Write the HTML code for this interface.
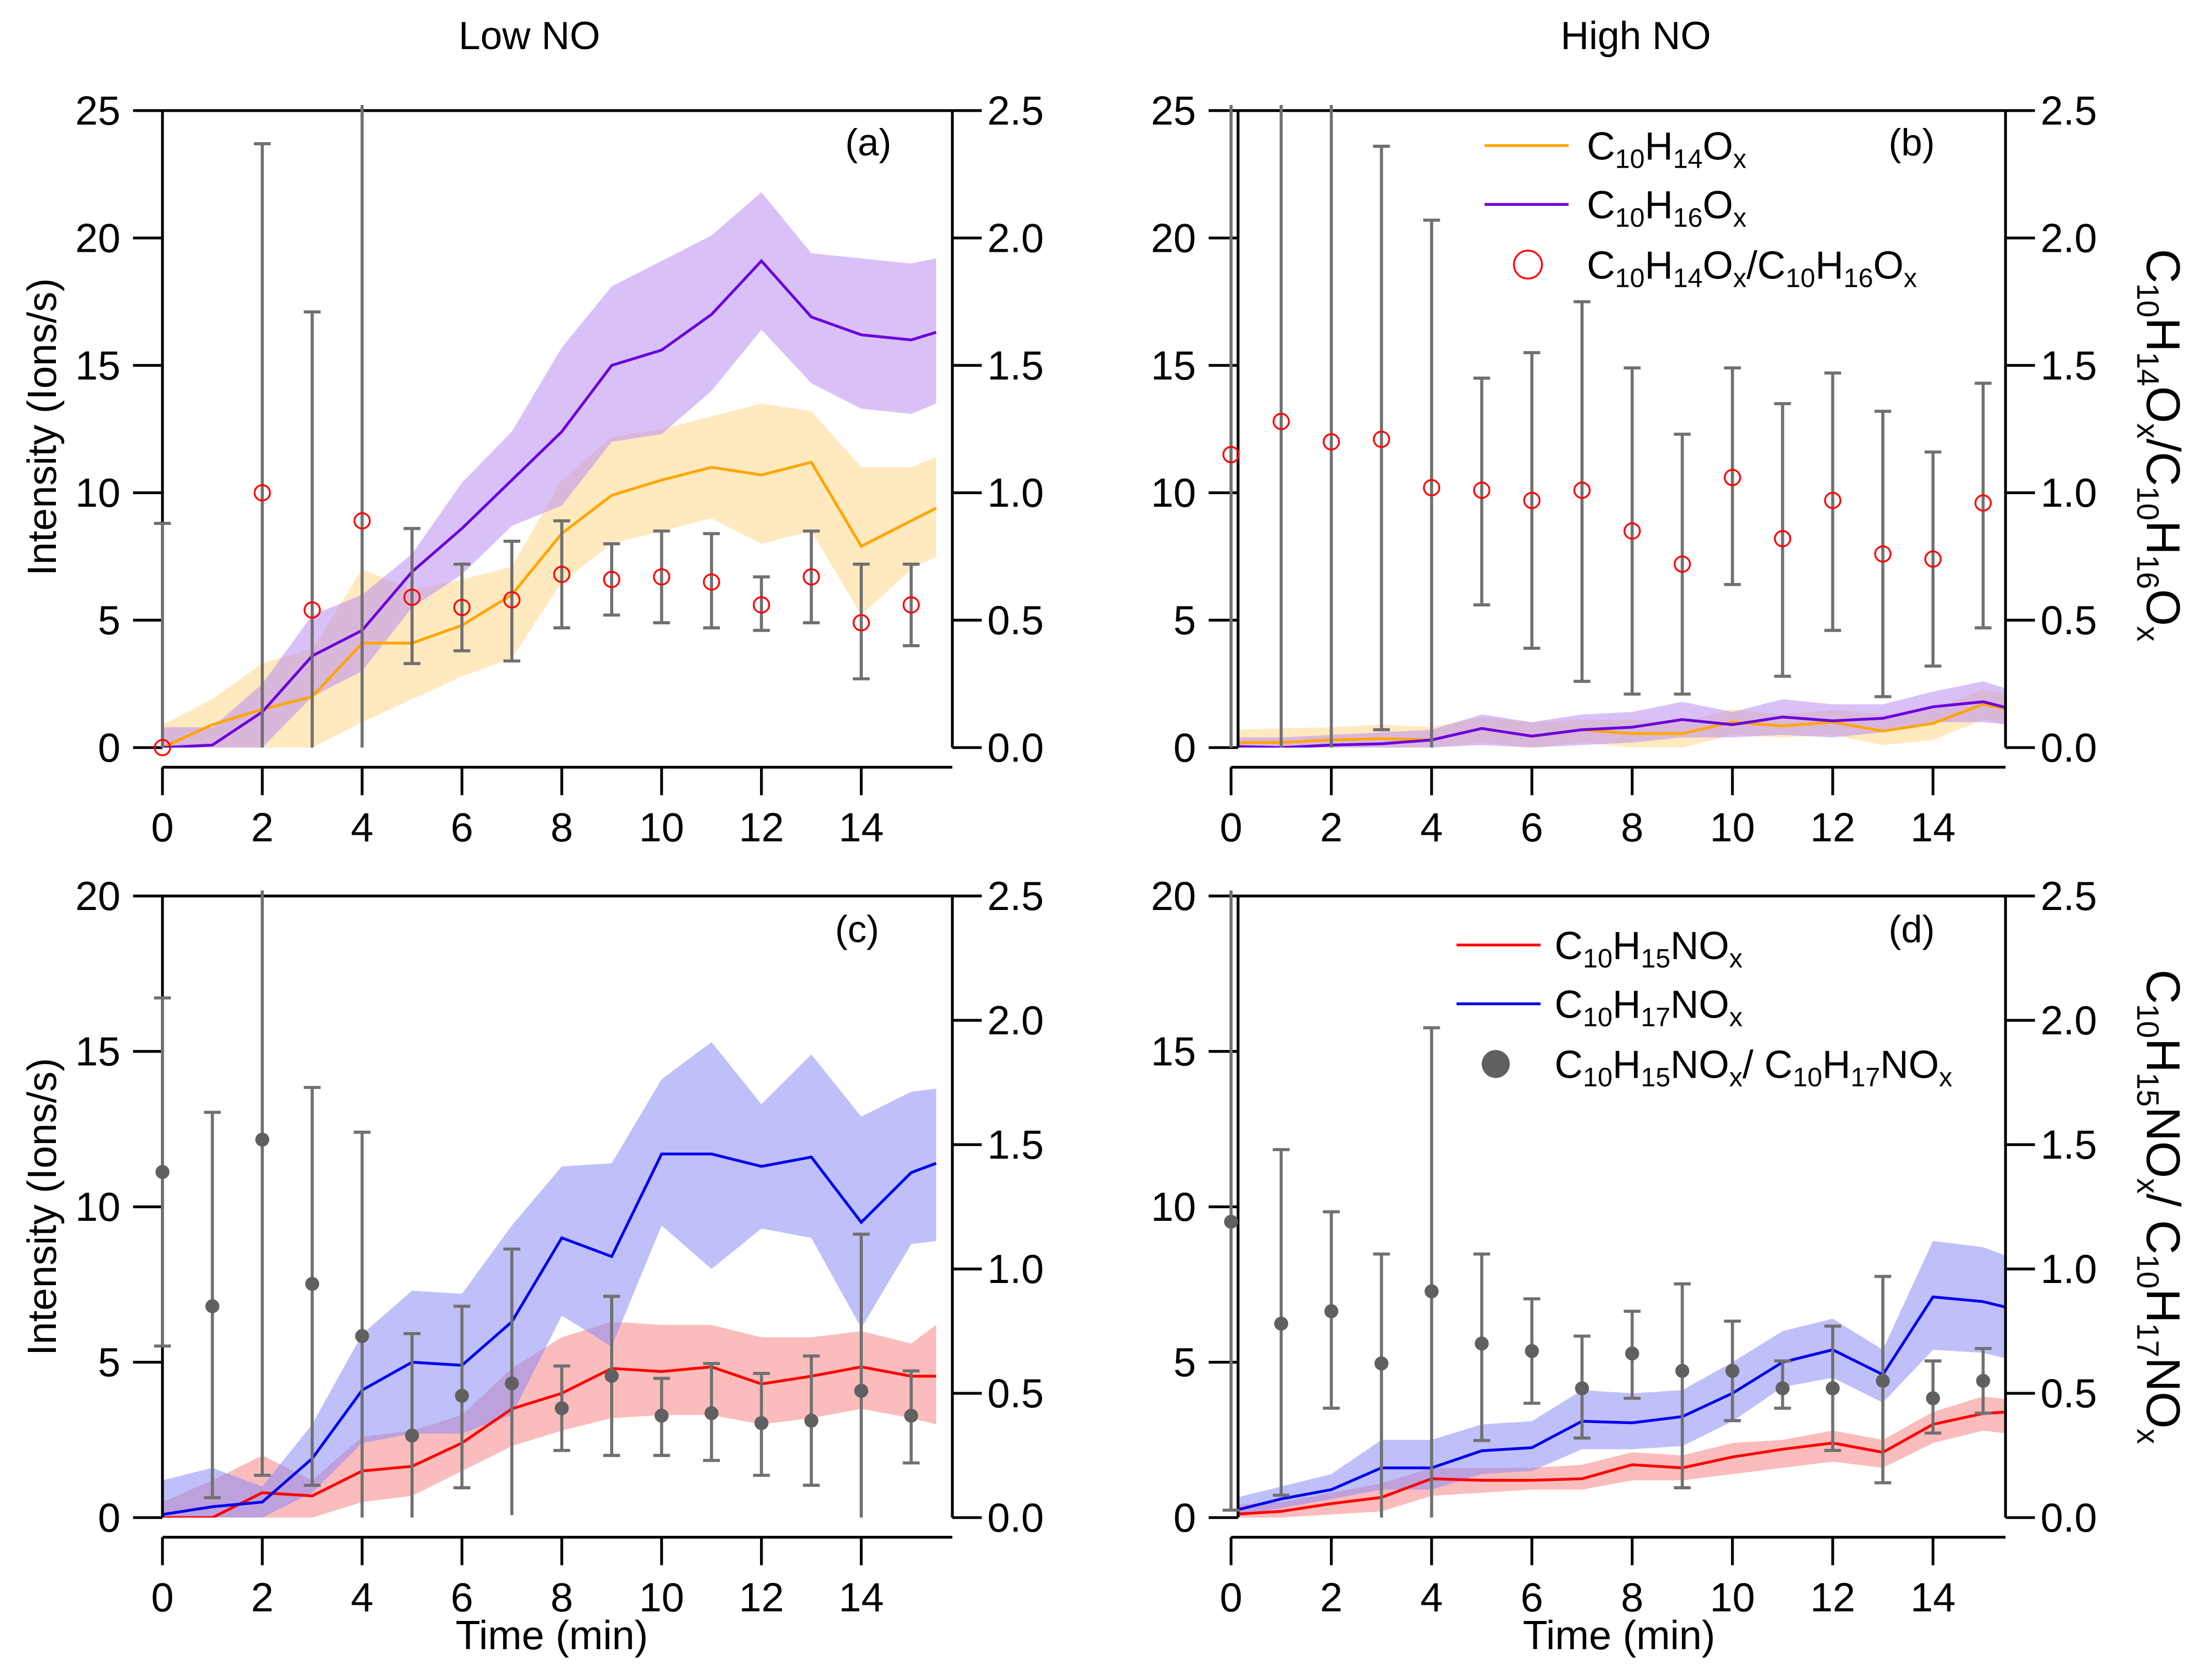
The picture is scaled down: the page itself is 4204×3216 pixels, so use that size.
<!DOCTYPE html>
<html><head><meta charset="utf-8"><style>
html,body{margin:0;padding:0;background:#fff}
svg{display:block}
text{font-family:"Liberation Sans",sans-serif;fill:#000}
</style></head><body>
<svg id="chart" width="4204" height="3216" viewBox="0 0 1568 1200" preserveAspectRatio="none" xmlns="http://www.w3.org/2000/svg">
<text x="378" y="35" font-size="28" text-anchor="middle">Low NO</text>
<text x="1168" y="35" font-size="28" text-anchor="middle">High NO</text>
<g id="root"></g>
</svg>
<script>
const NS="http://www.w3.org/2000/svg";
const root=document.getElementById('root');
// ---------- data ----------
const tLine=[0,1,2,3,4,5,6,7,8,9,10,11,12,13,14,15,15.5];
const tPts=[0,1,2,3,4,5,6,7,8,9,10,11,12,13,14,15];
const xTicks=[0,2,4,6,8,10,12,14];
// panel a
const aOrange=[0,0.9,1.5,2.0,4.1,4.1,4.8,6.0,8.4,9.9,10.5,11.0,10.7,11.2,7.9,8.9,9.4];
const aOrangeHi=[0.9,1.9,3.3,3.9,7.0,6.2,6.6,7.1,10.5,12.2,12.5,13.0,13.5,13.2,11.0,11.0,11.4];
const aOrangeLo=[0,0,0,0,1.0,1.9,2.8,3.5,6.5,8.0,8.5,9.0,8.0,8.5,5.2,7.0,7.5];
const aPurple=[0,0.1,1.4,3.6,4.6,6.9,8.6,10.5,12.4,15.0,15.6,17.0,19.1,16.9,16.2,16.0,16.3];
const aPurpleHi=[0.8,0.8,2.5,5.2,6.0,7.6,10.4,12.4,15.7,18.1,19.1,20.1,21.8,19.4,19.2,19.0,19.2];
const aPurpleLo=[0,0,0,2.0,3.0,5.5,6.8,8.7,9.5,12.0,12.3,14.0,16.4,14.3,13.3,13.1,13.5];
const aRatio=[0,null,1.0,0.54,0.89,0.59,0.55,0.58,0.68,0.66,0.67,0.65,0.56,0.67,0.49,0.56];
const aErrLo=[0,null,0,0,0,0.33,0.38,0.34,0.47,0.52,0.49,0.47,0.46,0.49,0.27,0.40];
const aErrHi=[0.88,null,2.37,1.71,2.6,0.86,0.72,0.81,0.89,0.80,0.85,0.84,0.67,0.85,0.72,0.72];
// panel b
const bOrange=[0.2,0.2,0.3,0.35,0.3,0.75,0.45,0.7,0.55,0.55,1.0,0.85,1.0,0.65,0.95,1.7,1.5];
const bOrangeHi=[0.7,0.75,0.8,0.9,0.8,1.2,1.0,1.1,1.1,1.0,1.5,1.3,1.5,1.3,1.5,2.3,2.1];
const bOrangeLo=[0,0,0,0,0,0.2,0,0.2,0,0,0.5,0.4,0.5,0.1,0.3,1.1,0.9];
const bPurple=[0.05,0,0.1,0.15,0.3,0.75,0.45,0.7,0.8,1.1,0.9,1.2,1.05,1.15,1.6,1.8,1.55];
const bPurpleHi=[0.4,0.4,0.5,0.6,0.7,1.3,1.0,1.3,1.4,1.8,1.4,1.9,1.7,1.7,2.2,2.6,2.3];
const bPurpleLo=[0,0,0,0,0,0.1,0,0.1,0.2,0.4,0.4,0.5,0.4,0.6,1.0,1.0,0.9];
const bRatio=[1.15,1.28,1.2,1.21,1.02,1.01,0.97,1.01,0.85,0.72,1.06,0.82,0.97,0.76,0.74,0.96];
const bErrLo=[0,0,0,0.07,0,0.56,0.39,0.26,0.21,0.21,0.64,0.28,0.46,0.2,0.32,0.47];
const bErrHi=[2.6,2.6,2.6,2.36,2.07,1.45,1.55,1.75,1.49,1.23,1.49,1.35,1.47,1.32,1.16,1.43];
// panel c
const cRed=[0,0,0.8,0.7,1.5,1.65,2.4,3.5,4.0,4.8,4.7,4.85,4.3,4.55,4.85,4.55,4.55];
const cRedHi=[0.5,1.2,2.0,1.2,2.6,2.8,3.3,4.8,5.8,6.3,6.2,6.2,5.8,5.8,6.0,5.6,6.2];
const cRedLo=[0,0,0,0,0.5,0.7,1.5,2.3,2.8,3.2,3.3,3.3,3.0,3.2,3.5,3.2,3.0];
const cBlue=[0.1,0.35,0.5,1.9,4.1,5.0,4.9,6.3,9.0,8.4,11.7,11.7,11.3,11.6,9.5,11.1,11.4];
const cBlueHi=[1.2,1.6,1.0,3.0,5.9,7.3,7.2,9.4,11.3,11.4,14.1,15.3,13.3,14.9,12.9,13.7,13.8];
const cBlueLo=[0,0,0,0.8,2.4,2.7,2.7,3.3,6.5,5.5,9.4,8.0,9.3,9.0,6.1,8.8,8.9];
const cRatio=[1.39,0.85,1.52,0.94,0.73,0.33,0.49,0.54,0.44,0.57,0.41,0.42,0.38,0.39,0.51,0.41];
const cErrLo=[0.69,0.08,0.17,0.13,0,0,0.12,0.01,0.27,0.25,0.25,0.23,0.17,0.13,0,0.22];
const cErrHi=[2.09,1.63,2.6,1.73,1.55,0.74,0.85,1.08,0.61,0.89,0.56,0.62,0.58,0.65,1.14,0.59];
// panel d
const dRed=[0.1,0.2,0.45,0.65,1.25,1.2,1.2,1.25,1.7,1.6,1.95,2.2,2.4,2.1,3.0,3.35,3.4];
const dRedHi=[0.4,0.5,0.8,1.1,1.6,1.6,1.6,1.7,2.1,2.0,2.4,2.5,2.8,2.5,3.4,3.9,3.8];
const dRedLo=[0,0,0.1,0.2,0.7,0.8,0.9,0.9,1.2,1.2,1.4,1.6,1.8,1.6,2.4,2.8,2.7];
const dBlue=[0.2,0.6,0.9,1.6,1.6,2.15,2.25,3.1,3.05,3.25,4.0,5.0,5.4,4.6,7.1,6.95,6.75];
const dBlueHi=[0.6,1.0,1.4,2.5,2.5,3.0,3.1,4.1,4.0,4.1,5.0,6.0,6.4,5.4,8.9,8.7,8.4];
const dBlueLo=[0,0.3,0.6,0.9,0.9,1.4,1.5,2.2,2.2,2.3,3.1,4.2,4.5,3.7,5.4,5.3,5.1];
const dRatio=[1.19,0.78,0.83,0.62,0.91,0.70,0.67,0.52,0.66,0.59,0.59,0.52,0.52,0.55,0.48,0.55];
const dErrLo=[0.03,0.09,0.44,0,0,0.31,0.46,0.32,0.48,0.12,0.39,0.44,0.27,0.14,0.34,0.42];
const dErrHi=[2.6,1.48,1.23,1.06,1.97,1.06,0.88,0.73,0.83,0.94,0.79,0.63,0.77,0.97,0.63,0.68];
const yTicksA=[0,5,10,15,20,25];
const yTicksC=[0,5,10,15,20];
const rTicks=[0,0.5,1.0,1.5,2.0,2.5];

function el(tag,attrs,parent){const e=document.createElementNS(NS,tag);for(const k in attrs)e.setAttribute(k,attrs[k]);(parent||root).appendChild(e);return e;}

function panel(o){
  const g=el('g',{});
  
  
  const X=t=>o.x0+o.dx*t;
  const Y=v=>o.y0-(o.y0-o.yTop)*v/o.ymax;
  const R=r=>o.y0-(o.y0-o.yTop)*r/2.5;
  const cid='clip-'+o.name;
  const cp=el('clipPath',{id:cid},g);
  el('rect',{x:o.axL,y:o.yTop,width:o.axR-o.axL,height:o.y0-o.yTop},cp);
  const cid2='clipe-'+o.name;
  const cp2=el('clipPath',{id:cid2},g);
  el('rect',{x:o.axL-30,y:o.yTop-4,width:o.axR-o.axL+30,height:o.y0-o.yTop+4},cp2);
  const data=el('g',{'clip-path':'url(#'+cid+')'},g);
  o.series.forEach(s=>{
    let pts=tLine.map((t,i)=>X(t)+','+Y(s.hi[i])).concat(tLine.slice().reverse().map((t,j)=>{const i=tLine.length-1-j;return X(t)+','+Y(s.lo[i]);}));
    const b=el('polygon',{points:pts.join(' '),fill:s.band,'fill-opacity':s.op},data);
    
    
  });
  o.series.forEach(s=>{
    const l=el('polyline',{points:tLine.map((t,i)=>X(t)+','+Y(s.v[i])).join(' '),fill:'none',stroke:s.color,'stroke-width':2},data);
    
    
  });
  const ax=el('g',{stroke:'#000','stroke-width':2,fill:'none'},g);
  
  
  el('line',{x1:o.axL,x2:o.axL,y1:o.yTop,y2:o.y0},ax);
  el('line',{x1:o.axR,x2:o.axR,y1:o.yTop,y2:o.y0},ax);
  el('line',{x1:o.axL,x2:o.axR,y1:o.yTop,y2:o.yTop},ax);
  el('line',{x1:o.x0,x2:o.axR,y1:o.y0+14,y2:o.y0+14},ax);
  const eg=el('g',{'clip-path':'url(#'+cid2+')'},g);
  tPts.forEach((t,i)=>{
    if(o.ratio[i]==null)return;
    const x=X(t);const yl=Math.min(R(o.elo[i]),o.y0);const yh=Math.max(R(o.ehi[i]),o.yTop-4);
    const eb=el('line',{x1:x,x2:x,y1:yl,y2:yh,stroke:'#707070','stroke-width':2.2},eg);
    
    
    if(o.ehi[i]<=2.5)el('line',{x1:x-6,x2:x+6,y1:R(o.ehi[i]),y2:R(o.ehi[i]),stroke:'#707070','stroke-width':2.2},eg);
    if(o.elo[i]>0.01)el('line',{x1:x-6,x2:x+6,y1:R(o.elo[i]),y2:R(o.elo[i]),stroke:'#707070','stroke-width':2.2},eg);
  });
  tPts.forEach((t,i)=>{
    if(o.ratio[i]==null)return;
    let m;
    if(o.hollow) m=el('ellipse',{cx:X(t),cy:R(o.ratio[i]),rx:5.5,ry:5.5,fill:'none',stroke:'#ff0000','stroke-width':1.3},g);
    else m=el('circle',{cx:X(t),cy:R(o.ratio[i]),r:5,fill:'#606060'},g);
    
    
  });
  o.yticks.forEach(v=>{
    el('line',{x1:o.axL-21,x2:o.axL,y1:Y(v),y2:Y(v)},ax);
    const tx=el('text',{x:o.axL-30,y:Y(v)+10,'font-size':29,'text-anchor':'end'},g);tx.textContent=v;
    
    
  });
  rTicks.forEach(r=>{
    el('line',{x1:o.axR,x2:o.axR+21,y1:R(r),y2:R(r)},ax);
    const tx=el('text',{x:o.axR+25,y:R(r)+10,'font-size':29},g);tx.textContent=r.toFixed(1);
    
    
  });
  xTicks.forEach(t=>{
    el('line',{x1:X(t),x2:X(t),y1:o.y0+14,y2:o.y0+34},ax);
    const tx=el('text',{x:X(t),y:o.y0+67,'font-size':29,'text-anchor':'middle'},g);tx.textContent=t;
    
    
  });
  const pl=el('text',{x:o.lab[0],y:o.lab[1],'font-size':27,'text-anchor':'middle'},g);pl.textContent=o.letter;
  
  
  return g;
}
const OR={color:'#ffa500',band:'#ffc860',op:0.4};
const PU={color:'#6a00dd',band:'#b98ef2',op:0.55};
const RE={color:'#ff0000',band:'#f57a7a',op:0.5};
const BL={color:'#0000ee',band:'#8a8af5',op:0.55};
panel({name:'panel-a',letter:'(a)',lab:[620,111],x0:116,dx:35.64,axL:116,axR:680,yTop:79,y0:534,ymax:25,yticks:yTicksA,hollow:true,
 series:[Object.assign({key:'c10h14ox-a',v:aOrange,hi:aOrangeHi,lo:aOrangeLo},OR),Object.assign({key:'c10h16ox-a',v:aPurple,hi:aPurpleHi,lo:aPurpleLo},PU)],
 ratio:aRatio,elo:aErrLo,ehi:aErrHi});
panel({name:'panel-b',letter:'(b)',lab:[1365,111],x0:879,dx:35.8,axL:884,axR:1432,yTop:79,y0:534,ymax:25,yticks:yTicksA,hollow:true,
 series:[Object.assign({key:'c10h14ox-b',v:bOrange,hi:bOrangeHi,lo:bOrangeLo},OR),Object.assign({key:'c10h16ox-b',v:bPurple,hi:bPurpleHi,lo:bPurpleLo},PU)],
 ratio:bRatio,elo:bErrLo,ehi:bErrHi});
panel({name:'panel-c',letter:'(c)',lab:[612,673],x0:116,dx:35.64,axL:116,axR:680,yTop:640,y0:1084,ymax:20,yticks:yTicksC,hollow:false,
 series:[Object.assign({key:'c10h15nox-c',v:cRed,hi:cRedHi,lo:cRedLo},RE),Object.assign({key:'c10h17nox-c',v:cBlue,hi:cBlueHi,lo:cBlueLo},BL)],
 ratio:cRatio,elo:cErrLo,ehi:cErrHi});
panel({name:'panel-d',letter:'(d)',lab:[1365,673],x0:879,dx:35.8,axL:884,axR:1432,yTop:640,y0:1084,ymax:20,yticks:yTicksC,hollow:false,
 series:[Object.assign({key:'c10h15nox-d',v:dRed,hi:dRedHi,lo:dRedLo},RE),Object.assign({key:'c10h17nox-d',v:dBlue,hi:dBlueHi,lo:dBlueLo},BL)],
 ratio:dRatio,elo:dErrLo,ehi:dErrHi});
</script>
<svg style="position:absolute;left:0;top:0" width="4204" height="3216" viewBox="0 0 1568 1200" preserveAspectRatio="none" xmlns="http://www.w3.org/2000/svg">
<text transform="translate(40,305) rotate(-90)" font-size="29" text-anchor="middle">Intensity (Ions/s)</text>
<text transform="translate(40,862) rotate(-90)" font-size="29" text-anchor="middle">Intensity (Ions/s)</text>
<text x="394" y="1178" font-size="29" text-anchor="middle">Time (min)</text>
<text x="1156" y="1178" font-size="29" text-anchor="middle">Time (min)</text>
<text transform="translate(1533,318) rotate(90)" font-size="34" text-anchor="middle">C<tspan font-size="22" dy="7">10</tspan><tspan dy="-7">H</tspan><tspan font-size="22" dy="7">14</tspan><tspan dy="-7">O</tspan><tspan font-size="22" dy="7">x</tspan><tspan dy="-7">/C</tspan><tspan font-size="22" dy="7">10</tspan><tspan dy="-7">H</tspan><tspan font-size="22" dy="7">16</tspan><tspan dy="-7">O</tspan><tspan font-size="22" dy="7">x</tspan></text>
<text transform="translate(1533,862) rotate(90)" font-size="34" text-anchor="middle">C<tspan font-size="22" dy="7">10</tspan><tspan dy="-7">H</tspan><tspan font-size="22" dy="7">15</tspan><tspan dy="-7">NO</tspan><tspan font-size="22" dy="7">x</tspan><tspan dy="-7">/ C</tspan><tspan font-size="22" dy="7">10</tspan><tspan dy="-7">H</tspan><tspan font-size="22" dy="7">17</tspan><tspan dy="-7">NO</tspan><tspan font-size="22" dy="7">x</tspan></text>
<g font-size="28">
<line x1="1060" x2="1120" y1="104" y2="104" stroke="#ffa500" stroke-width="2"/>
<text x="1133" y="114">C<tspan font-size="19" dy="6">10</tspan><tspan dy="-6">H</tspan><tspan font-size="19" dy="6">14</tspan><tspan dy="-6">O</tspan><tspan font-size="19" dy="6">x</tspan></text>
<line x1="1060" x2="1120" y1="146" y2="146" stroke="#6a00dd" stroke-width="2"/>
<text x="1133" y="156">C<tspan font-size="19" dy="6">10</tspan><tspan dy="-6">H</tspan><tspan font-size="19" dy="6">16</tspan><tspan dy="-6">O</tspan><tspan font-size="19" dy="6">x</tspan></text>
<circle cx="1091" cy="189" r="10" fill="none" stroke="#ff0000" stroke-width="1.3"/>
<text x="1133" y="199">C<tspan font-size="19" dy="6">10</tspan><tspan dy="-6">H</tspan><tspan font-size="19" dy="6">14</tspan><tspan dy="-6">O</tspan><tspan font-size="19" dy="6">x</tspan><tspan dy="-6">/C</tspan><tspan font-size="19" dy="6">10</tspan><tspan dy="-6">H</tspan><tspan font-size="19" dy="6">16</tspan><tspan dy="-6">O</tspan><tspan font-size="19" dy="6">x</tspan></text>
</g>
<g font-size="28">
<line x1="1040" x2="1100" y1="675" y2="675" stroke="#ff0000" stroke-width="2"/>
<text x="1110" y="685">C<tspan font-size="19" dy="6">10</tspan><tspan dy="-6">H</tspan><tspan font-size="19" dy="6">15</tspan><tspan dy="-6">NO</tspan><tspan font-size="19" dy="6">x</tspan></text>
<line x1="1040" x2="1100" y1="717" y2="717" stroke="#0000ee" stroke-width="2"/>
<text x="1110" y="727">C<tspan font-size="19" dy="6">10</tspan><tspan dy="-6">H</tspan><tspan font-size="19" dy="6">17</tspan><tspan dy="-6">NO</tspan><tspan font-size="19" dy="6">x</tspan></text>
<circle cx="1068" cy="760" r="10" fill="#606060"/>
<text x="1110" y="770">C<tspan font-size="19" dy="6">10</tspan><tspan dy="-6">H</tspan><tspan font-size="19" dy="6">15</tspan><tspan dy="-6">NO</tspan><tspan font-size="19" dy="6">x</tspan><tspan dy="-6">/ C</tspan><tspan font-size="19" dy="6">10</tspan><tspan dy="-6">H</tspan><tspan font-size="19" dy="6">17</tspan><tspan dy="-6">NO</tspan><tspan font-size="19" dy="6">x</tspan></text>
</g>
</svg>
</body></html>
